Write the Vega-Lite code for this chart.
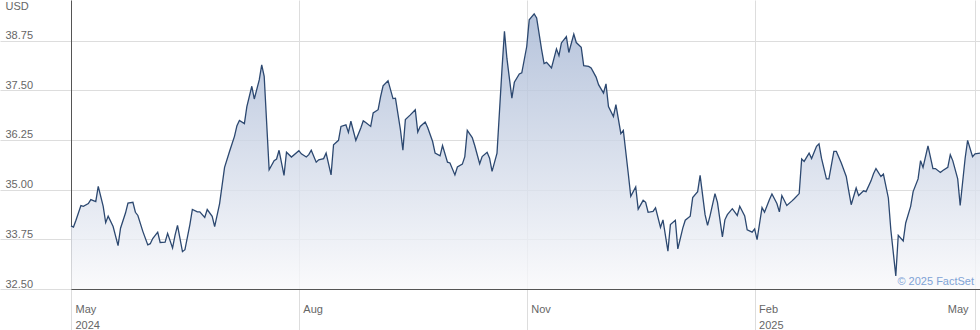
{
  "$schema": "https://vega.github.io/schema/vega-lite/v6.json",
  "width": 909,
  "height": 289,
  "autosize": {"type": "none"},
  "padding": {"left": 71, "top": 0, "right": 0, "bottom": 41},
  "background": "#ffffff",
  "config": {"view": {"stroke": null}, "axis": {"domainWidth": 1, "gridWidth": 1, "tickWidth": 1}},
  "data": {"values": [
    {"date":"2024-05-01","price":34.09},{"date":"2024-05-02","price":34.06},{"date":"2024-05-03","price":34.23},{"date":"2024-05-05","price":34.60},{"date":"2024-05-06","price":34.58},{"date":"2024-05-08","price":34.65},{"date":"2024-05-09","price":34.75},{"date":"2024-05-11","price":34.70},{"date":"2024-05-12","price":35.08},{"date":"2024-05-14","price":34.58},{"date":"2024-05-15","price":34.17},{"date":"2024-05-16","price":34.33},{"date":"2024-05-18","price":34.07},{"date":"2024-05-20","price":33.59},{"date":"2024-05-21","price":34.03},{"date":"2024-05-23","price":34.41},{"date":"2024-05-24","price":34.66},{"date":"2024-05-26","price":34.68},{"date":"2024-05-27","price":34.43},{"date":"2024-05-28","price":34.35},{"date":"2024-05-30","price":33.95},
    {"date":"2024-06-01","price":33.61},{"date":"2024-06-02","price":33.64},{"date":"2024-06-03","price":33.77},{"date":"2024-06-05","price":33.93},{"date":"2024-06-06","price":33.67},{"date":"2024-06-08","price":33.68},{"date":"2024-06-09","price":33.90},{"date":"2024-06-11","price":33.53},{"date":"2024-06-12","price":33.85},{"date":"2024-06-13","price":34.10},{"date":"2024-06-15","price":33.44},{"date":"2024-06-16","price":33.49},{"date":"2024-06-18","price":34.12},{"date":"2024-06-19","price":34.50},{"date":"2024-06-21","price":34.44},{"date":"2024-06-22","price":34.44},{"date":"2024-06-24","price":34.30},{"date":"2024-06-25","price":34.50},{"date":"2024-06-27","price":34.33},{"date":"2024-06-28","price":34.07},{"date":"2024-06-30","price":34.65},
    {"date":"2024-07-02","price":35.56},{"date":"2024-07-04","price":35.96},{"date":"2024-07-06","price":36.34},{"date":"2024-07-07","price":36.61},{"date":"2024-07-08","price":36.74},{"date":"2024-07-10","price":36.66},{"date":"2024-07-11","price":37.09},{"date":"2024-07-13","price":37.60},{"date":"2024-07-14","price":37.28},{"date":"2024-07-16","price":37.76},{"date":"2024-07-17","price":38.14},{"date":"2024-07-18","price":37.85},{"date":"2024-07-20","price":35.50},{"date":"2024-07-22","price":35.73},{"date":"2024-07-23","price":35.77},{"date":"2024-07-24","price":35.99},{"date":"2024-07-26","price":35.36},{"date":"2024-07-27","price":35.94},{"date":"2024-07-29","price":35.82},
    {"date":"2024-08-01","price":35.98},{"date":"2024-08-02","price":35.90},{"date":"2024-08-04","price":35.82},{"date":"2024-08-05","price":35.88},{"date":"2024-08-06","price":35.99},{"date":"2024-08-08","price":35.69},{"date":"2024-08-09","price":35.75},{"date":"2024-08-11","price":35.78},{"date":"2024-08-12","price":35.92},{"date":"2024-08-14","price":35.37},{"date":"2024-08-15","price":36.13},{"date":"2024-08-17","price":36.24},{"date":"2024-08-18","price":36.59},{"date":"2024-08-20","price":36.63},{"date":"2024-08-21","price":36.44},{"date":"2024-08-22","price":36.72},{"date":"2024-08-24","price":36.24},{"date":"2024-08-26","price":36.55},{"date":"2024-08-27","price":36.73},{"date":"2024-08-28","price":36.69},{"date":"2024-08-30","price":36.59},{"date":"2024-08-31","price":36.93},
    {"date":"2024-09-02","price":37.01},{"date":"2024-09-03","price":37.34},{"date":"2024-09-04","price":37.61},{"date":"2024-09-06","price":37.74},{"date":"2024-09-08","price":37.29},{"date":"2024-09-09","price":37.30},{"date":"2024-09-11","price":36.51},{"date":"2024-09-12","price":35.99},{"date":"2024-09-13","price":36.76},{"date":"2024-09-15","price":36.88},{"date":"2024-09-17","price":37.01},{"date":"2024-09-18","price":36.45},{"date":"2024-09-19","price":36.59},{"date":"2024-09-21","price":36.70},{"date":"2024-09-22","price":36.56},{"date":"2024-09-24","price":36.21},{"date":"2024-09-25","price":35.92},{"date":"2024-09-27","price":35.85},{"date":"2024-09-28","price":36.11},{"date":"2024-09-30","price":35.69},
    {"date":"2024-10-01","price":35.67},{"date":"2024-10-03","price":35.37},{"date":"2024-10-04","price":35.57},{"date":"2024-10-06","price":35.64},{"date":"2024-10-07","price":35.83},{"date":"2024-10-08","price":36.49},{"date":"2024-10-10","price":36.31},{"date":"2024-10-11","price":36.11},{"date":"2024-10-13","price":35.65},{"date":"2024-10-14","price":35.83},{"date":"2024-10-16","price":35.94},{"date":"2024-10-17","price":35.79},{"date":"2024-10-18","price":35.46},{"date":"2024-10-20","price":35.92},{"date":"2024-10-22","price":38.02},{"date":"2024-10-23","price":38.98},{"date":"2024-10-24","price":38.30},{"date":"2024-10-26","price":37.30},{"date":"2024-10-27","price":37.70},{"date":"2024-10-29","price":37.91},{"date":"2024-10-30","price":37.94},
    {"date":"2024-11-01","price":38.60},{"date":"2024-11-02","price":39.27},{"date":"2024-11-04","price":39.42},{"date":"2024-11-05","price":39.32},{"date":"2024-11-07","price":38.52},{"date":"2024-11-08","price":38.17},{"date":"2024-11-09","price":38.20},{"date":"2024-11-11","price":38.06},{"date":"2024-11-13","price":38.54},{"date":"2024-11-14","price":38.37},{"date":"2024-11-15","price":38.69},{"date":"2024-11-17","price":38.85},{"date":"2024-11-18","price":38.45},{"date":"2024-11-20","price":38.91},{"date":"2024-11-21","price":38.70},{"date":"2024-11-23","price":38.58},{"date":"2024-11-24","price":38.12},{"date":"2024-11-26","price":38.10},{"date":"2024-11-27","price":38.06},{"date":"2024-11-29","price":37.83},{"date":"2024-11-30","price":37.64},
    {"date":"2024-12-02","price":37.43},{"date":"2024-12-03","price":37.66},{"date":"2024-12-04","price":37.09},{"date":"2024-12-06","price":36.84},{"date":"2024-12-07","price":37.14},{"date":"2024-12-09","price":36.41},{"date":"2024-12-10","price":36.49},{"date":"2024-12-12","price":35.40},{"date":"2024-12-13","price":34.83},{"date":"2024-12-15","price":35.07},{"date":"2024-12-16","price":34.51},{"date":"2024-12-18","price":34.73},{"date":"2024-12-19","price":34.68},{"date":"2024-12-20","price":34.43},{"date":"2024-12-22","price":34.45},{"date":"2024-12-23","price":34.54},{"date":"2024-12-25","price":34.05},{"date":"2024-12-26","price":34.24},{"date":"2024-12-28","price":33.45},{"date":"2024-12-29","price":34.12},{"date":"2024-12-31","price":34.23},
    {"date":"2025-01-01","price":33.51},{"date":"2025-01-03","price":34.03},{"date":"2025-01-04","price":34.23},{"date":"2025-01-06","price":34.33},{"date":"2025-01-07","price":34.80},{"date":"2025-01-09","price":34.95},{"date":"2025-01-10","price":35.36},{"date":"2025-01-12","price":34.37},{"date":"2025-01-13","price":34.10},{"date":"2025-01-14","price":34.34},{"date":"2025-01-16","price":34.90},{"date":"2025-01-17","price":34.68},{"date":"2025-01-19","price":33.81},{"date":"2025-01-20","price":34.24},{"date":"2025-01-21","price":34.37},{"date":"2025-01-23","price":34.52},{"date":"2025-01-25","price":34.35},{"date":"2025-01-26","price":34.58},{"date":"2025-01-28","price":34.34},{"date":"2025-01-29","price":33.99},{"date":"2025-01-31","price":33.93},
    {"date":"2025-02-01","price":34.01},{"date":"2025-02-02","price":33.74},{"date":"2025-02-04","price":34.55},{"date":"2025-02-05","price":34.43},{"date":"2025-02-07","price":34.75},{"date":"2025-02-08","price":34.89},{"date":"2025-02-10","price":34.65},{"date":"2025-02-11","price":34.44},{"date":"2025-02-12","price":34.85},{"date":"2025-02-14","price":34.60},{"date":"2025-02-16","price":34.71},{"date":"2025-02-17","price":34.77},{"date":"2025-02-19","price":34.90},{"date":"2025-02-20","price":35.77},{"date":"2025-02-21","price":35.71},{"date":"2025-02-23","price":35.92},{"date":"2025-02-24","price":35.78},{"date":"2025-02-26","price":36.09},{"date":"2025-02-27","price":36.15},{"date":"2025-02-28","price":35.79},
    {"date":"2025-03-02","price":35.27},{"date":"2025-03-03","price":35.27},{"date":"2025-03-05","price":35.96},{"date":"2025-03-06","price":35.96},{"date":"2025-03-08","price":35.67},{"date":"2025-03-10","price":35.33},{"date":"2025-03-11","price":34.97},{"date":"2025-03-12","price":34.62},{"date":"2025-03-14","price":35.04},{"date":"2025-03-15","price":34.85},{"date":"2025-03-17","price":34.97},{"date":"2025-03-18","price":34.95},{"date":"2025-03-20","price":35.22},{"date":"2025-03-21","price":35.40},{"date":"2025-03-22","price":35.53},{"date":"2025-03-24","price":35.33},{"date":"2025-03-25","price":35.39},{"date":"2025-03-27","price":34.79},{"date":"2025-03-28","price":33.99},{"date":"2025-03-30","price":32.83},{"date":"2025-03-31","price":33.85},
    {"date":"2025-04-02","price":33.71},{"date":"2025-04-03","price":34.16},{"date":"2025-04-05","price":34.58},{"date":"2025-04-06","price":34.95},{"date":"2025-04-08","price":35.27},{"date":"2025-04-09","price":35.73},{"date":"2025-04-10","price":35.56},{"date":"2025-04-12","price":36.10},{"date":"2025-04-14","price":35.53},{"date":"2025-04-15","price":35.53},{"date":"2025-04-17","price":35.43},{"date":"2025-04-18","price":35.48},{"date":"2025-04-20","price":35.56},{"date":"2025-04-21","price":35.88},{"date":"2025-04-22","price":35.73},{"date":"2025-04-24","price":35.27},{"date":"2025-04-25","price":34.60},{"date":"2025-04-27","price":35.79},{"date":"2025-04-28","price":36.24},{"date":"2025-04-30","price":35.83},
    {"date":"2025-05-01","price":35.90},{"date":"2025-05-03","price":35.92}
  ]},
  "layer": [
    {
      "mark": {
        "type": "area",
        "fillOpacity": 0.8,
        "fill": {"x1": 0, "y1": 0, "x2": 0, "y2": 1, "gradient": "linear", "stops": [{"offset": 0, "color": "#a4b5d3"}, {"offset": 1, "color": "#f9f9fb"}]},
        "line": {"color": "#2c4870", "strokeWidth": 1.3}
      },
      "encoding": {
        "x": {
          "field": "date", "type": "temporal",
          "scale": {"type": "utc", "domain": [{"year": 2024, "month": 5, "date": 1, "utc": true}, {"year": 2025, "month": 5, "date": 3, "utc": true}]},
          "axis": {
            "title": null,
            "values": [{"year": 2024, "month": 5, "date": 1, "utc": true}, {"year": 2024, "month": 8, "date": 1, "utc": true}, {"year": 2024, "month": 11, "date": 1, "utc": true}, {"year": 2025, "month": 2, "date": 1, "utc": true}, {"year": 2025, "month": 5, "date": 1, "utc": true}],
            "labelExpr": "utcmonth(datum.value)==1 || (utcyear(datum.value)==2024 && utcmonth(datum.value)==4) ? [utcFormat(datum.value,'%b'), utcFormat(datum.value,'%Y')] : utcFormat(datum.value,'%b')",
            "grid": true, "gridColor": "#dddddd",
            "domainColor": "#555555",
            "ticks": true, "tickColor": "#dddddd", "tickSize": 41,
            "labelPadding": -18,
            "labelAlign": {"condition": {"test": "utcyear(datum.value)==2025 && utcmonth(datum.value)==4", "value": "right"}, "value": "left"},
            "labelOffset": {"condition": {"test": "utcyear(datum.value)==2025 && utcmonth(datum.value)==4", "value": -7}, "value": 4},
            "labelBaseline": "alphabetic", "labelLineHeight": 16,
            "labelFont": "Liberation Sans", "labelFontSize": 11, "labelColor": "#666666",
            "labelFlush": false, "labelOverlap": false, "labelBound": false
          }
        },
        "y": {
          "field": "price", "type": "quantitative",
          "scale": {"domain": [32.5, 39.77], "nice": false, "zero": false},
          "axis": {
            "values": [32.5, 33.75, 35, 36.25, 37.5, 38.75], "format": ".2f",
            "title": "USD", "titleAngle": 0, "titleAlign": "left", "titleBaseline": "alphabetic", "titleX": -66, "titleY": 9,
            "titleFont": "Liberation Sans", "titleFontSize": 11, "titleFontWeight": "normal", "titleColor": "#666666",
            "grid": true, "gridColor": "#dddddd",
            "domainColor": "#555555",
            "ticks": true, "tickColor": "#dddddd", "tickSize": 71,
            "labelPadding": -5, "labelAlign": "left", "labelBaseline": "alphabetic", "labelOffset": -2,
            "labelFont": "Liberation Sans", "labelFontSize": 11, "labelColor": "#666666",
            "labelFlush": false, "labelOverlap": false, "labelBound": false
          }
        },
        "y2": {"datum": 32.5}
      }
    },
    {
      "data": {"values": [{}]},
      "mark": {"type": "text", "align": "right", "baseline": "alphabetic", "dx": -1, "dy": -4, "font": "Liberation Sans", "fontSize": 11, "color": "#7fa3d6"},
      "encoding": {
        "x": {"datum": {"year": 2025, "month": 5, "date": 1, "utc": true}, "type": "temporal"},
        "y": {"datum": 32.5, "type": "quantitative"},
        "text": {"value": "© 2025 FactSet"}
      }
    }
  ]
}
